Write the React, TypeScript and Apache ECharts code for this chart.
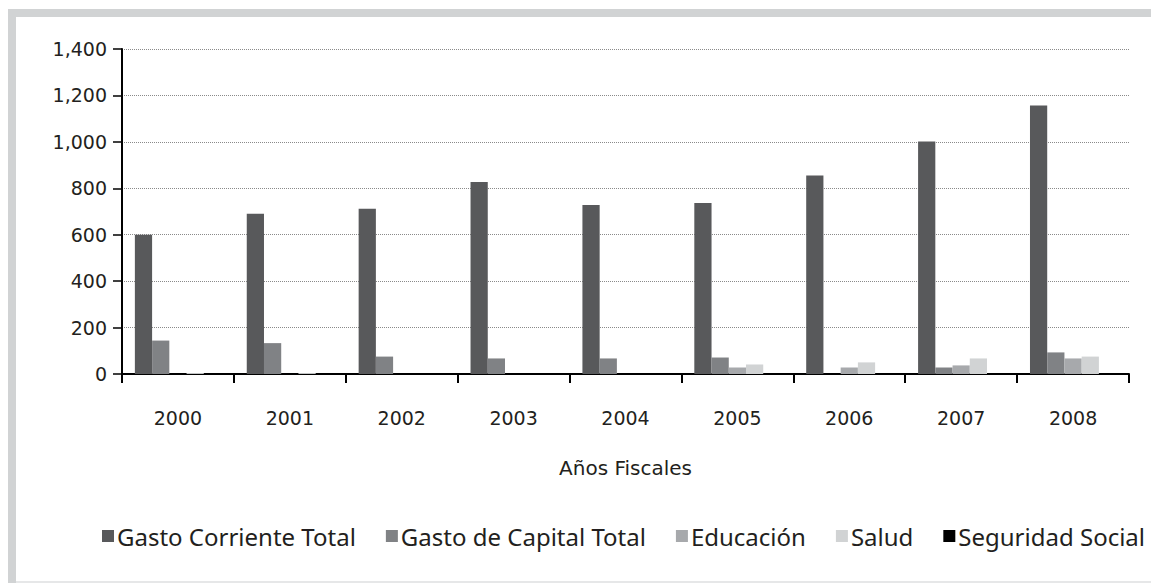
import React, { useEffect, useRef } from "react";
import * as echarts from "echarts";

const years = ["2000", "2001", "2002", "2003", "2004", "2005", "2006", "2007", "2008"];
const seriesNames = ["Gasto Corriente Total", "Gasto de Capital Total", "Educación", "Salud", "Seguridad Social"];
const gastoCorriente = [600, 690, 712, 827, 728, 737, 855, 1002, 1157];
const gastoCapital = [144, 133, 75, 67, 67, 71, null, 28, 93];
const educacion = [null, null, null, null, null, 28, 28, 37, 67];
const salud = [4, 4, null, null, null, 41, 50, 67, 75];
const seguridadSocial = [null, null, null, null, null, null, null, null, null];
const colors = ["#58595b", "#808285", "#a7a9ac", "#d1d3d4", "#000000"];

export default function App() {
  const ref = useRef<HTMLDivElement>(null);
  useEffect(() => {
    document.body.style.margin = "0";
    document.documentElement.style.overflow = "hidden";
    const chart = echarts.init(ref.current!, null, { renderer: "svg" });
    const data = [gastoCorriente, gastoCapital, educacion, salud, seguridadSocial];
    chart.setOption({
      animation: false,
      backgroundColor: "#ffffff",
      color: colors,
      grid: { left: 122, right: 22, top: 49, bottom: 209, containLabel: false },
      legend: {
        data: seriesNames,
        left: 102,
        top: 524,
        width: 1049,
        padding: 0,
        icon: "rect",
        itemWidth: 12,
        itemHeight: 12,
        itemGap: 30,
        textStyle: { fontFamily: "Noto Sans", fontSize: 24, color: "#231f20", padding: [0, 0, 0, -2] },
      },
      xAxis: {
        type: "category",
        data: years,
        name: "Años Fiscales",
        nameLocation: "middle",
        nameGap: 84,
        nameTextStyle: { fontFamily: "DejaVu Sans", fontSize: 20, color: "#231f20" },
        axisLine: { lineStyle: { color: "#000", width: 2 } },
        axisTick: { show: true, length: 9, lineStyle: { color: "#000", width: 2 } },
        axisLabel: { margin: 34, fontFamily: "DejaVu Sans", fontSize: 19, color: "#231f20" },
      },
      yAxis: {
        type: "value",
        min: 0,
        max: 1400,
        interval: 200,
        axisLine: { show: true, lineStyle: { color: "#000", width: 2 } },
        axisTick: { show: true, length: 9, lineStyle: { color: "#000", width: 1.5 } },
        axisLabel: {
          margin: 15,
          fontFamily: "DejaVu Sans",
          fontSize: 19,
          color: "#231f20",
          formatter: (v: number) => v.toLocaleString("en-US"),
        },
        splitLine: { show: true, lineStyle: { color: "#8a8a8a", width: 1, type: [1, 1] } },
      },
      series: seriesNames.map((name, i) => ({
        name,
        type: "bar",
        data: data[i],
        barGap: "0%",
        barCategoryGap: "23%",
        itemStyle: { color: colors[i] },
      })),
      graphic: [
        { type: "rect", shape: { x: 8, y: 9, width: 8, height: 574 }, style: { fill: "#d1d3d4" }, silent: true },
        { type: "rect", shape: { x: 8, y: 9, width: 1143, height: 8 }, style: { fill: "#d1d3d4" }, silent: true },
        { type: "rect", shape: { x: 16, y: 581, width: 1135, height: 2 }, style: { fill: "#e6e7e8" }, silent: true },
      ],
    });
    return () => chart.dispose();
  }, []);
  return <div ref={ref} style={{ width: 1151, height: 583 }} />;
}
